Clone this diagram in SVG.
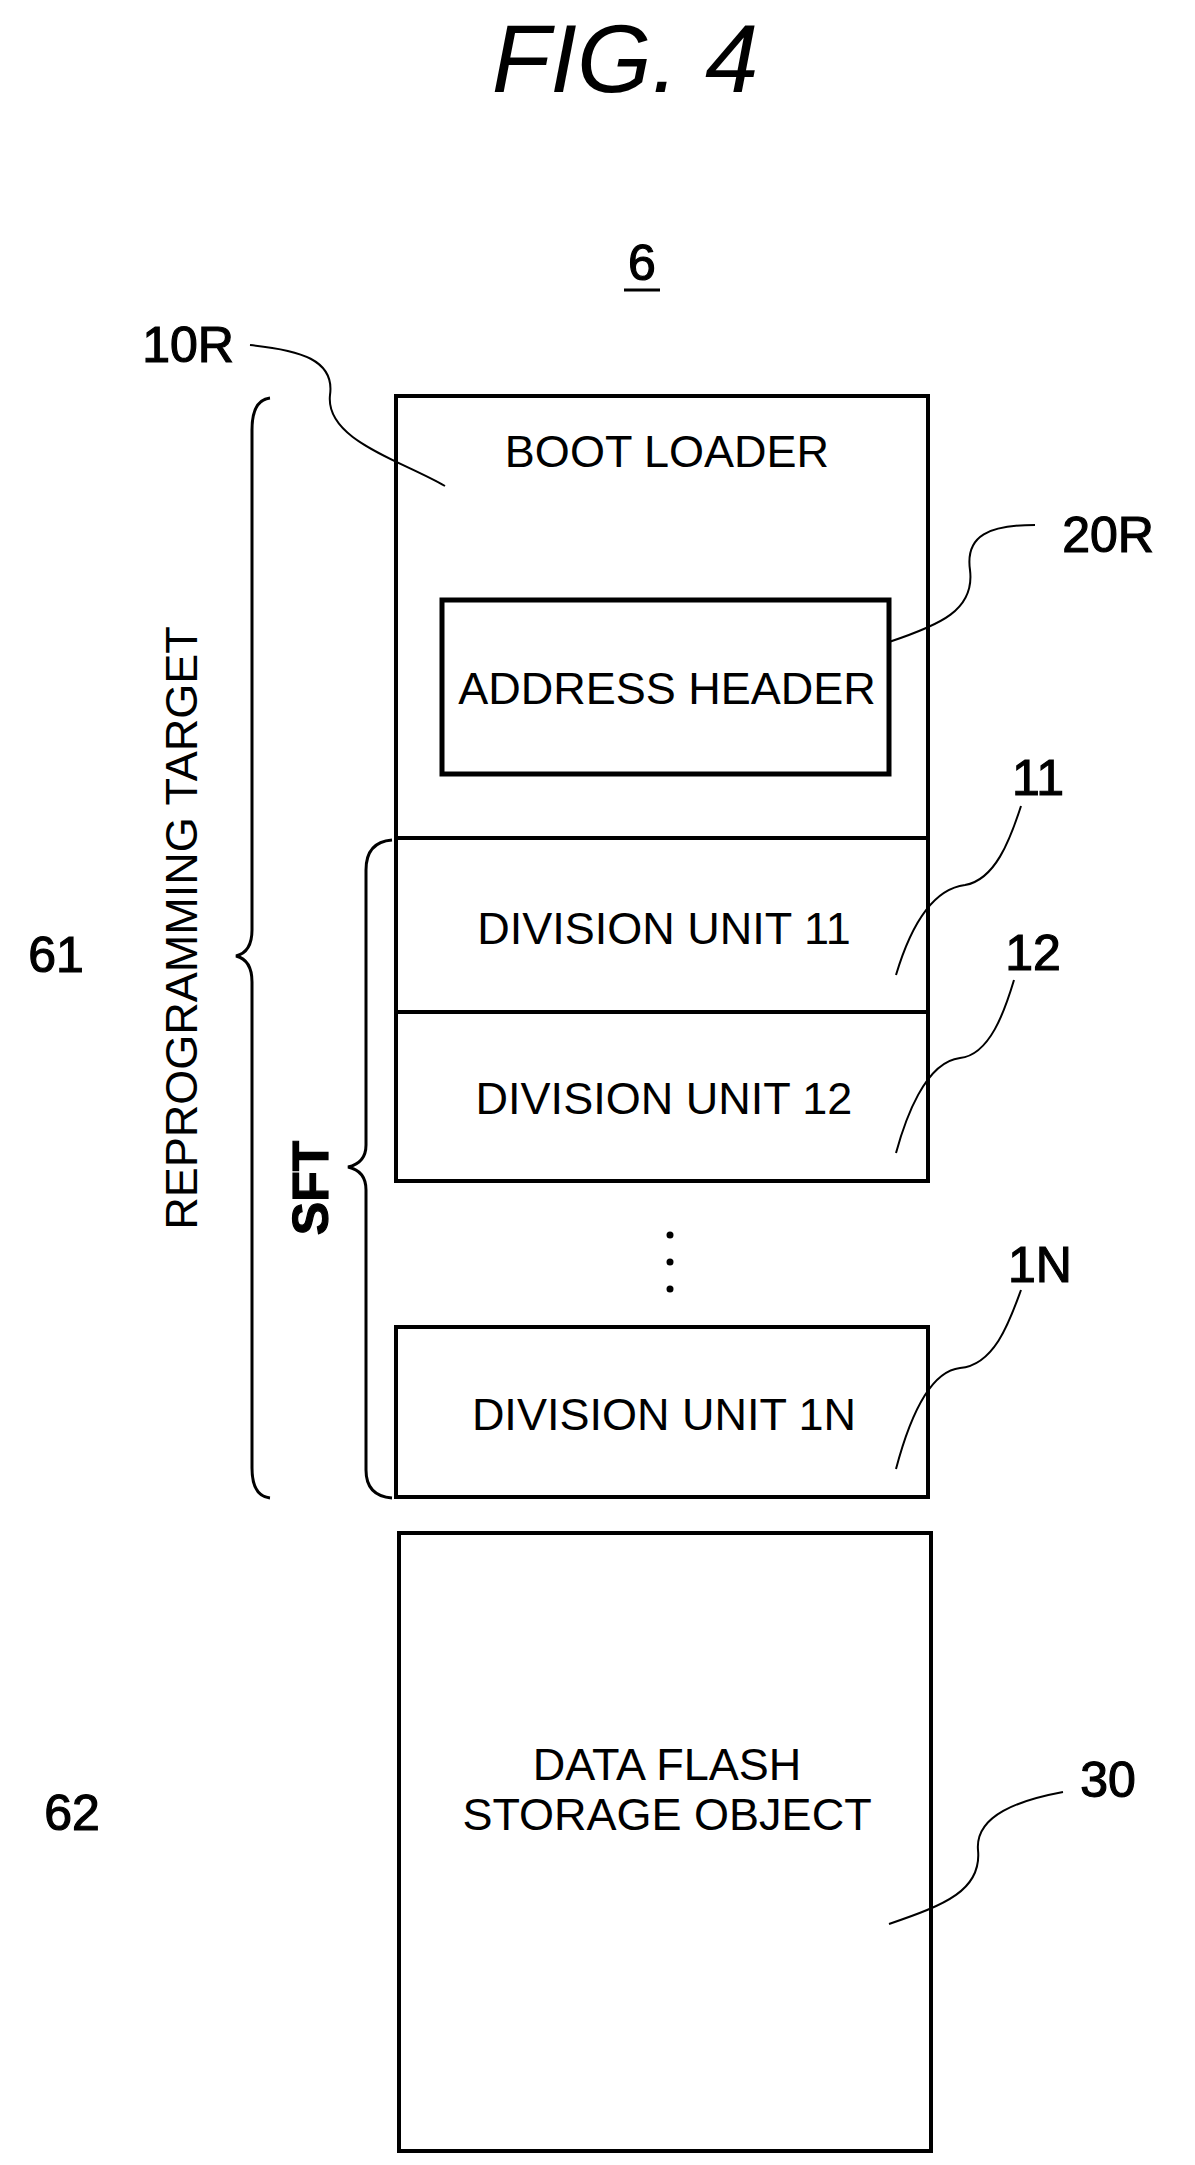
<svg xmlns="http://www.w3.org/2000/svg" width="1195" height="2165" viewBox="0 0 1195 2165">
<style>
.box{fill:none;stroke:#000;stroke-width:4}
.ln{fill:none;stroke:#000;stroke-width:2}
.t{font-family:"Liberation Sans",Arial,sans-serif;font-size:45px;fill:#000;text-anchor:middle}
.r{font-family:"Liberation Sans",Arial,sans-serif;font-size:50px;fill:#000;stroke:#000;stroke-width:1.2;text-anchor:middle}
</style>
<rect width="1195" height="2165" fill="#fff"/>
<text x="625" y="92" class="t" style="font-size:96px;font-style:italic">FIG. 4</text>
<g id="ref6"><text x="642" y="280" class="r">6</text><line x1="624" y1="290" x2="660" y2="290" stroke="#000" stroke-width="3"/></g>
<g id="n10R">
<rect x="396" y="396" width="532" height="442" class="box"/>
<text x="667" y="467" class="t">BOOT LOADER</text>
</g>
<g id="n20R">
<rect x="442" y="600" width="447" height="174" class="box" style="stroke-width:5"/>
<text x="667" y="704" class="t">ADDRESS HEADER</text>
</g>
<g id="n11"><rect x="396" y="838" width="532" height="174" class="box"/><text x="664" y="944" class="t">DIVISION UNIT 11</text></g>
<g id="n12"><rect x="396" y="1012" width="532" height="169" class="box"/><text x="664" y="1114" class="t">DIVISION UNIT 12</text></g>
<g id="dots"><circle cx="670" cy="1235" r="3.5"/><circle cx="670" cy="1262" r="3.5"/><circle cx="670" cy="1289" r="3.5"/></g>
<g id="n1N"><rect x="396" y="1327" width="532" height="170" class="box"/><text x="664" y="1430" class="t">DIVISION UNIT 1N</text></g>
<g id="n30"><rect x="399" y="1533" width="532" height="618" class="box"/>
<text x="667" y="1780" class="t">DATA FLASH</text><text x="667" y="1830" class="t">STORAGE OBJECT</text></g>
<g id="braces">
<path class="ln" style="stroke-width:3" d="M270 398 Q252 400 252 430 L252 930 Q252 952 236 956 Q252 960 252 982 L252 1468 Q252 1496 270 1498"/>
<path class="ln" style="stroke-width:3" d="M392 840 Q366 842 366 870 L366 1145 Q366 1163 348 1167 Q366 1171 366 1190 L366 1470 Q366 1496 392 1498"/>
<text transform="translate(197 928) rotate(-90)" class="t">REPROGRAMMING TARGET</text>
<text transform="translate(328 1188) rotate(-90)" class="r" style="font-weight:bold">SFT</text>
</g>
<g id="refs">
<text x="188" y="362" class="r">10R</text>
<text x="1108" y="552" class="r">20R</text>
<text x="1038" y="795" class="r">11</text>
<text x="1033" y="970" class="r">12</text>
<text x="1040" y="1282" class="r">1N</text>
<text x="1108" y="1797" class="r">30</text>
<text x="56" y="972" class="r">61</text>
<text x="72" y="1830" class="r">62</text>
</g>
<g id="connectors">
<path class="ln" d="M250 345 C300 350 335 360 330 395 C325 440 400 460 445 486"/>
<path class="ln" d="M1035 525 C990 525 965 535 970 570 C975 610 940 625 889 642"/>
<path class="ln" d="M1021 806 C1010 840 995 880 965 885 C925 890 905 945 896 975"/>
<path class="ln" d="M1014 980 C1005 1010 990 1055 960 1058 C925 1062 905 1120 896 1153"/>
<path class="ln" d="M1021 1290 C1010 1320 995 1365 960 1368 C925 1372 905 1435 896 1469"/>
<path class="ln" d="M1063 1792 C1020 1800 975 1815 978 1850 C982 1890 945 1905 889 1924"/>
</g>
</svg>
